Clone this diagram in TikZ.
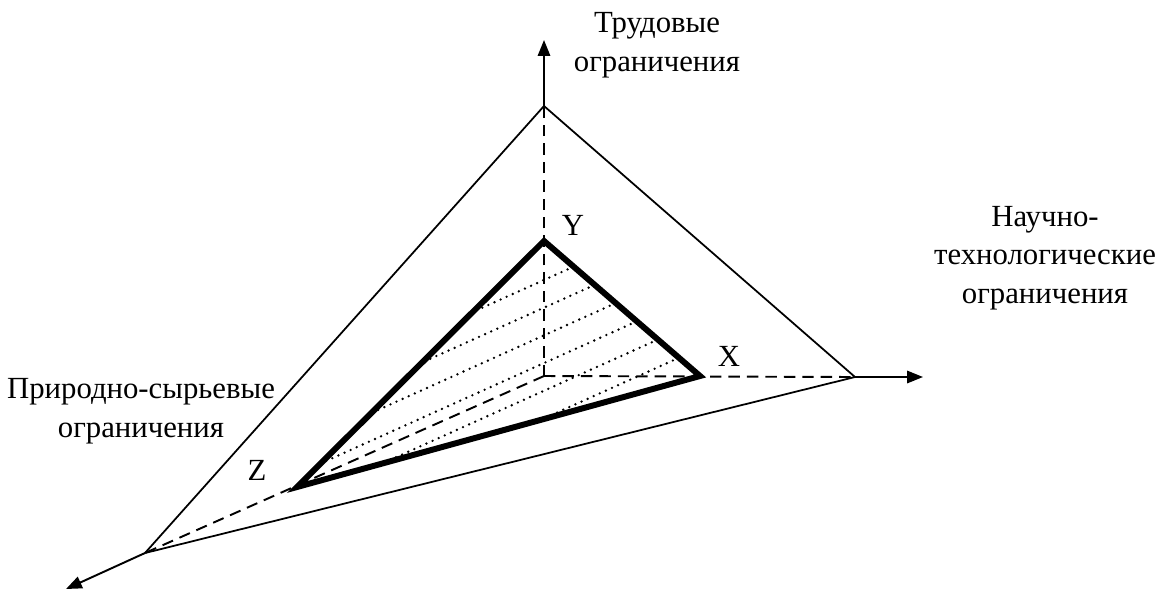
\documentclass[tikz,border=0pt]{standalone}
\usepackage{fontspec}
\setmainfont{Liberation Serif}
\usepackage{tikz}
\usetikzlibrary{arrows.meta,positioning,calc}

\begin{document}
\begin{tikzpicture}[
  x=0.02cm, y=-0.02cm,
  font=\fontsize{17.5}{22}\selectfont,
  axis/.style={line width=1.1pt, -{Triangle[length=9pt, width=7pt]}},
  hidden/.style={line width=1.1pt, dash pattern=on 6.5pt off 4pt},
  outer/.style={line width=1pt, line join=miter},
  inner/.style={line width=3.4pt, line join=miter},
  hatch/.style={line width=1.5pt, dash pattern=on 0pt off 3.8pt, line cap=round},
  lbl/.style={align=center, inner sep=0pt},
  vtx/.style={inner sep=1pt},
]
\useasboundingbox (0,0) rectangle (1158,589);

% ---- origin, the corners of the outer triangle and the axis ends
\coordinate (O)  at (544,376);
\coordinate (Yt) at (544,106);
\coordinate (Xt) at (855,377);
\coordinate (Zt) at (145,553);
\coordinate (Ye) at (544,40);
\coordinate (Xe) at (923,377);
\coordinate (Ze) at (66,589);

% ---- the inner triangle
\coordinate (Y) at (544,241);
\coordinate (X) at (700,376);
\coordinate (Z) at (297,487);

% ---- hidden parts of the axes
\draw[hidden] (O) -- (Yt);
\draw[hidden] (O) -- (Xt);
\draw[hidden] (O) -- (Zt);

% ---- visible parts of the axes
\draw[axis] (Yt) -- (Ye);
\draw[axis] (Xt) -- (Xe);
\draw[axis] (Zt) -- (Ze);

\draw[outer] (Yt) -- (Xt) -- (Zt) -- cycle;

% ---- dotted hatching of the inner triangle
\begin{scope}
  \clip (Y) -- (X) -- (Z) -- cycle;
  \foreach \t in {0.19,0.325,0.46,0.595,0.73,0.865} {
    \draw[hatch] ($(Y)!\t!(X)$) -- ++(-494,222);
  }
\end{scope}

\draw[inner] (Y) -- (X) -- (Z) -- cycle;

% ---- labels of the vertices
\node[vtx] (ly) at (573,225) {Y};
\node[vtx] (lx) at (729,356) {X};
\node[vtx] (lz) at (257,470) {Z};

% ---- labels of the axes
\node[lbl] (tlab) at (657,45) {Трудовые\\ограничения};
\node[lbl] (nlab) at (1045,258) {Научно-\\технологические\\ограничения};
\node[lbl] (plab) at (141,411) {Природно-сырьевые\\ограничения};
\end{tikzpicture}
\end{document}
